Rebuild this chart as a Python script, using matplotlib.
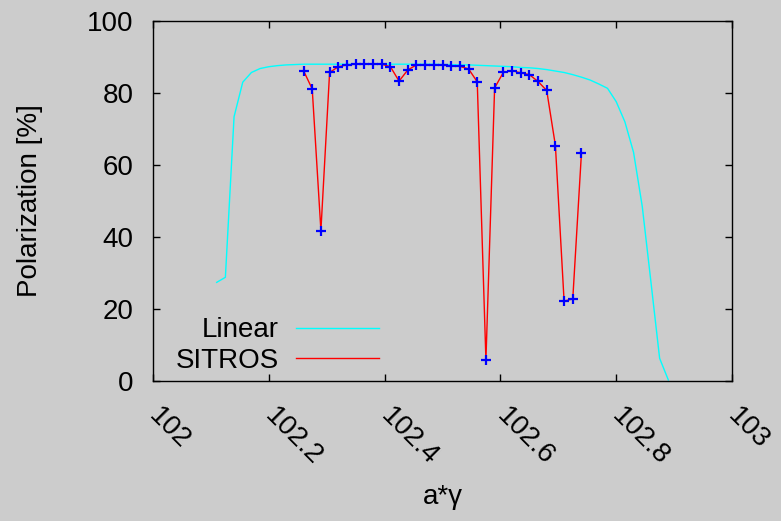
import matplotlib.pyplot as plt

plt.rcParams['font.family'] = ['Liberation Sans', 'DejaVu Sans']

# linear spin model
linear_x = [102.110, 102.125, 102.140, 102.155, 102.170, 102.185, 102.200, 102.215,
            102.230, 102.245, 102.260, 102.275, 102.290, 102.305, 102.320, 102.335,
            102.350, 102.365, 102.380, 102.395, 102.410, 102.425, 102.440, 102.455,
            102.470, 102.485, 102.500, 102.515, 102.530, 102.545, 102.560, 102.575,
            102.590, 102.605, 102.620, 102.635, 102.650, 102.665, 102.680, 102.695,
            102.710, 102.725, 102.740, 102.755, 102.770, 102.785, 102.800, 102.815,
            102.830, 102.845, 102.860, 102.875, 102.890]
linear_y = [27.4, 28.8, 73.4, 83.0, 85.7, 86.8, 87.3, 87.6,
            87.8, 87.9, 88.0, 88.0, 88.0, 88.0, 88.0, 88.0,
            88.0, 88.0, 88.0, 88.0, 88.0, 88.0, 88.0, 88.0,
            88.0, 88.0, 87.9, 87.9, 87.8, 87.8, 87.7, 87.6,
            87.5, 87.4, 87.3, 87.1, 87.0, 86.8, 86.5, 86.1,
            85.7, 85.1, 84.4, 83.6, 82.5, 81.3, 77.6, 72.0,
            63.5, 48.5, 27.5, 6.3, 0.3]

# SITROS tracking
sitros_x = [102.260, 102.275, 102.290, 102.305, 102.320, 102.335, 102.350, 102.365,
            102.380, 102.395, 102.410, 102.425, 102.440, 102.455, 102.470, 102.485,
            102.500, 102.515, 102.530, 102.545, 102.560, 102.575, 102.590, 102.605,
            102.620, 102.635, 102.650, 102.665, 102.680, 102.695, 102.710, 102.725,
            102.740]
sitros_y = [86.2, 81.1, 41.8, 85.7, 87.3, 87.8, 88.0, 88.0,
            88.1, 88.0, 87.3, 83.3, 86.4, 87.8, 87.9, 87.8,
            87.7, 87.6, 87.4, 86.7, 83.1, 5.8, 81.4, 85.7,
            86.2, 85.6, 85.1, 83.2, 80.7, 65.4, 22.2, 22.8,
            63.4]

xticks = [102.0, 102.2, 102.4, 102.6, 102.8, 103.0]
xtick_labels = ['102', '102.2', '102.4', '102.6', '102.8', '103']
yticks = [0, 20, 40, 60, 80, 100]

bg = '#cccccc'
W, H = 781, 521
fig = plt.figure(figsize=(W / 100, H / 100), dpi=100, facecolor=bg)
ax = fig.add_axes([153 / W, 1 - 381 / H, (732 - 153) / W, (381 - 21) / H])
ax.set_facecolor(bg)

ax.plot(linear_x, linear_y, color='#00ffff', lw=1.0, label='Linear')
ax.plot(sitros_x, sitros_y, color='#ff0000', lw=1.0, label='SITROS')
ax.plot(sitros_x, sitros_y, ls='none', marker='+', color='#0000ff',
        ms=7, mew=1.6)

ax.set_xlim(102, 103)
ax.set_ylim(0, 100)
ax.set_xticks(xticks)
ax.set_xticklabels(xtick_labels, rotation=-45, ha='left', va='center',
                   rotation_mode='anchor')
ax.set_yticks(yticks)
ax.tick_params(direction='in', length=5, width=1, top=True, right=True,
               labelsize=20, color='black')
ax.tick_params(axis='y', pad=14)
ax.tick_params(axis='x', pad=22)
for s in ax.spines.values():
    s.set_linewidth(1.0)
    s.set_color('black')

ax.set_xlabel('a*\u03b3', fontsize=20, va='center', ha='center')
ax.xaxis.set_label_coords(0.5, -(497 - 381) / 360)
ax.set_ylabel('Polarization [%]', fontsize=20, va='center', ha='center')
ax.yaxis.set_label_coords(-(153 - 30) / 579, 0.5)

ax.legend(loc='lower right', bbox_to_anchor=(379 / W, 1 - 374 / H),
          bbox_transform=fig.transFigure, frameon=False, markerfirst=False,
          fontsize=20, handlelength=3.0, handletextpad=0.6,
          labelspacing=0.17, borderpad=0, borderaxespad=0)

fig.savefig('out.png', dpi=100, facecolor=bg)
